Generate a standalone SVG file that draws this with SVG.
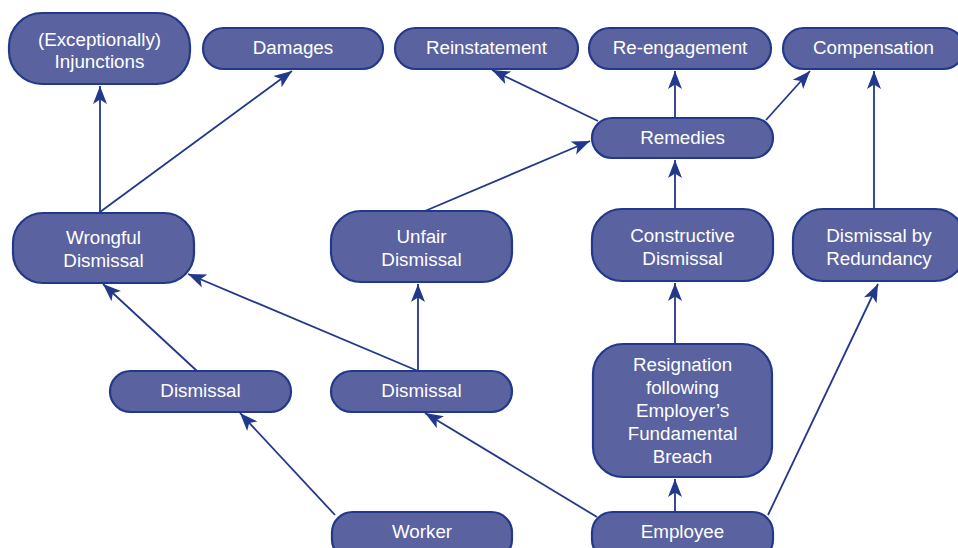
<svg xmlns="http://www.w3.org/2000/svg" width="958" height="548" viewBox="0 0 958 548">
<defs>
<style>
.n rect{fill:#5a62a0;stroke:#22388a;stroke-width:2.2}
.n text{fill:#ffffff;font-family:"Liberation Sans",Arial,sans-serif;font-size:18.8px;text-anchor:middle}
.c line{stroke:#22388a;stroke-width:1.8;fill:none;marker-end:url(#ah)}
</style>
<marker id="ah" markerUnits="userSpaceOnUse" markerWidth="19" markerHeight="15" refX="18" refY="7" orient="auto" overflow="visible">
<path d="M18,7 L0,0 L4.5,7 L0,14 Z" fill="#22388a"/>
</marker>
</defs>
<rect width="958" height="548" fill="#ffffff"/>
<g id="connectors" class="c">
<line x1="100" y1="213" x2="100" y2="86"/>
<line x1="100" y1="212" x2="292" y2="71"/>
<line x1="197" y1="371" x2="103" y2="284"/>
<line x1="418" y1="371" x2="188" y2="274"/>
<line x1="418" y1="371" x2="418" y2="284"/>
<line x1="425" y1="211" x2="590" y2="141"/>
<line x1="598" y1="121" x2="492" y2="70"/>
<line x1="675" y1="118" x2="675" y2="71"/>
<line x1="766" y1="120" x2="810" y2="71"/>
<line x1="874" y1="209" x2="874" y2="71"/>
<line x1="675" y1="209" x2="675" y2="160"/>
<line x1="675" y1="344" x2="675" y2="283"/>
<line x1="675" y1="512" x2="675" y2="479"/>
<line x1="768" y1="515" x2="878" y2="284"/>
<line x1="597" y1="517" x2="425" y2="413"/>
<line x1="335" y1="515" x2="240" y2="413"/>
</g>
<g id="injunctions" class="n"><rect x="9" y="13" width="181" height="71" rx="33"/><text x="99.5" y="46">(Exceptionally)</text><text x="99.5" y="68">Injunctions</text></g>
<g id="damages" class="n"><rect x="203" y="28" width="180" height="41" rx="20.5"/><text x="293" y="54">Damages</text></g>
<g id="reinstatement" class="n"><rect x="395" y="28" width="183" height="41" rx="20.5"/><text x="486.5" y="54">Reinstatement</text></g>
<g id="reengagement" class="n"><rect x="589" y="28" width="182" height="41" rx="20.5"/><text x="680" y="54">Re-engagement</text></g>
<g id="compensation" class="n"><rect x="783" y="28" width="181" height="41" rx="20.5"/><text x="873.5" y="54">Compensation</text></g>
<g id="remedies" class="n"><rect x="592" y="118" width="181" height="40" rx="20"/><text x="682.5" y="144">Remedies</text></g>
<g id="wrongful" class="n"><rect x="13" y="213" width="181" height="70" rx="30"/><text x="103.5" y="244">Wrongful</text><text x="103.5" y="267">Dismissal</text></g>
<g id="unfair" class="n"><rect x="331" y="211" width="181" height="71" rx="30"/><text x="421.5" y="243">Unfair</text><text x="421.5" y="266">Dismissal</text></g>
<g id="constructive" class="n"><rect x="592" y="209" width="181" height="72" rx="30"/><text x="682.5" y="242">Constructive</text><text x="682.5" y="264.5">Dismissal</text></g>
<g id="redundancy" class="n"><rect x="793" y="209" width="172" height="72" rx="30"/><text x="879" y="242">Dismissal by</text><text x="879" y="264.5">Redundancy</text></g>
<g id="dismissal1" class="n"><rect x="110" y="371" width="181" height="41" rx="20.5"/><text x="200.5" y="397">Dismissal</text></g>
<g id="dismissal2" class="n"><rect x="331" y="371" width="181" height="41" rx="20.5"/><text x="421.5" y="397">Dismissal</text></g>
<g id="resignation" class="n"><rect x="593" y="344" width="179" height="133" rx="30"/><text x="682.5" y="371">Resignation</text><text x="682.5" y="394">following</text><text x="682.5" y="417">Employer’s</text><text x="682.5" y="440">Fundamental</text><text x="682.5" y="463">Breach</text></g>
<g id="worker" class="n"><rect x="332" y="512" width="180" height="48" rx="20.5"/><text x="422" y="538">Worker</text></g>
<g id="employee" class="n"><rect x="592" y="512" width="181" height="48" rx="20.5"/><text x="682.5" y="538">Employee</text></g>
</svg>
